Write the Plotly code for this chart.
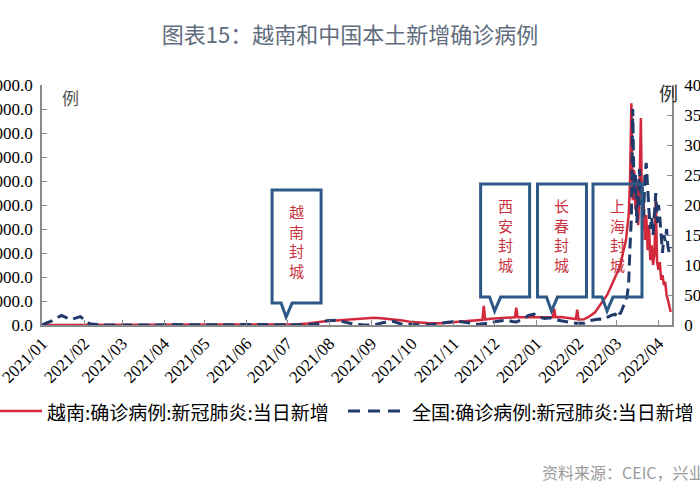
import pandas as pd
import plotly.graph_objects as go

# ---------------- data ----------------
dates_weekly = list(pd.date_range("2021-01-01", "2021-11-19", freq="7D"))
dates_mid = ["2021-11-22", "2021-11-23", "2021-11-24", "2021-11-28", "2021-12-02", "2021-12-06",
             "2021-12-10", "2021-12-14", "2021-12-16", "2021-12-17", "2021-12-18", "2021-12-22",
             "2021-12-26", "2021-12-30", "2022-01-03", "2022-01-07", "2022-01-11", "2022-01-13",
             "2022-01-14", "2022-01-15", "2022-01-19", "2022-01-23", "2022-01-27", "2022-01-30",
             "2022-01-31", "2022-02-01", "2022-02-05", "2022-02-09", "2022-02-13", "2022-02-16",
             "2022-02-19", "2022-02-22", "2022-02-25", "2022-02-28"]
dates_daily = list(pd.date_range("2022-03-01", "2022-04-10", freq="D"))

vn_weekly = [0, 0, 0, 0, 50, 40, 30, 20, 10, 10, 5, 5, 5, 5, 5, 5, 5, 50, 150, 200, 250, 300,
             300, 400, 450, 400, 600, 1500, 3000, 6000, 8500, 9500, 10500, 12000, 14000, 15000,
             13500, 12000, 9500, 6000, 4000, 3500, 3800, 5500, 7500, 9000, 10500]
vn_mid = [11000, 40000, 11500, 13000, 14000, 14500, 15500, 16000, 16000, 36000, 16000, 16000,
          16000, 16500, 15500, 16000, 16000, 16000, 34000, 16000, 16500, 15000, 14000, 12500,
          32000, 11000, 12000, 18000, 26000, 38000, 50000, 62000, 80000, 100000]
vn_daily = [104000, 110000, 118000, 125000, 140000, 150000, 165000, 177000, 200000, 229000,
            300000, 462000, 260000, 323000, 240000, 300000, 208000, 281000, 431000, 198000,
            260000, 177000, 229000, 156000, 208000, 135000, 166000, 125000, 146000, 266000,
            131000, 115000, 131000, 94000, 104000, 83000, 90000, 62000, 52000, 35000, 27000]

cn_weekly = [5, 70, 160, 90, 140, 20, 2, 0, 0, 0, 0, 0, 0, 5, 10, 2, 0, 0, 0, 2, 3, 10,
             15, 10, 5, 5, 3, 3, 5, 20, 70, 80, 40, 10, 2, 2, 40, 60, 10, 2, 2, 5, 30, 50,
             60, 30, 10]
cn_mid = [20, 20, 20, 30, 60, 70, 80, 60, 50, 50, 60, 100, 160, 180, 130, 110, 120, 100, 100, 90,
          70, 50, 40, 30, 30, 25, 30, 70, 80, 100, 90, 130, 160, 180]
cn_daily = [150, 120, 180, 200, 250, 300, 350, 420, 500, 700, 1300, 1800, 3600, 2200, 2500,
            1700, 2100, 2600, 2000, 2300, 1800, 2500, 2700, 2200, 1900, 1600, 1800, 1500, 1900,
            2200, 1700, 2000, 1800, 1400, 1200, 1500, 1400, 1600, 1300, 1200, 1300]

dates = [pd.Timestamp(d) for d in dates_weekly + dates_mid + dates_daily]
vn_cases = vn_weekly + vn_mid + vn_daily
cn_cases = cn_weekly + cn_mid + cn_daily

series_names = ["越南:确诊病例:新冠肺炎:当日新增", "全国:确诊病例:新冠肺炎:当日新增"]

# callouts: label, pointer date, pointer height (fraction of plot)
callout_labels = ["越南封城", "西安封城", "长春封城", "上海封城"]
callout_dates = ["2021-06-30", "2021-12-01", "2022-01-12", "2022-02-22"]
callout_tip_y = [0.033, 0.058, 0.058, 0.058]

RED = "#d3293c"
NAVY = "#1f3a6b"
BOX = "#2d5986"
SERIF = "Liberation Serif"
CJK = "Noto Sans CJK SC"

fig = go.Figure()
fig.add_trace(go.Scatter(x=dates, y=vn_cases, name=series_names[0], mode="lines",
                         line=dict(color=RED, width=2.5), yaxis="y", showlegend=False))
fig.add_trace(go.Scatter(x=dates, y=cn_cases, name=series_names[1], mode="lines",
                         line=dict(color=NAVY, width=3, dash="11px,6px"), yaxis="y2",
                         showlegend=False))

shapes = []
annotations = []
bubble = "M0,0 L-5,14 L-14,14 L-14,127 L35,127 L35,14 L6,14 Z"
for lab, d, ty in zip(callout_labels, callout_dates, callout_tip_y):
    shapes.append(dict(type="path", xref="x", yref="paper", xsizemode="pixel", ysizemode="pixel",
                       xanchor=d, yanchor=ty, path=bubble,
                       line=dict(color=BOX, width=3), fillcolor="rgba(0,0,0,0)", layer="above"))
    annotations.append(dict(text="<br>".join(list(lab)), x=d, y=ty, xref="x", yref="paper",
                            xshift=10.5, yshift=76, showarrow=False, xanchor="center", yanchor="middle",
                            font=dict(family=CJK, size=15, color="#c8333f")))

# manual legend (below plot)
def px2paper(px):
    return (px - 42) / 630

def py2paper(py):
    return (325 - py) / 240

legend_y = py2paper(411)
shapes.append(dict(type="line", xref="paper", yref="paper", x0=px2paper(0), x1=px2paper(42),
                   y0=legend_y, y1=legend_y, line=dict(color=RED, width=2.5)))
shapes.append(dict(type="line", xref="paper", yref="paper", x0=px2paper(348), x1=px2paper(406),
                   y0=legend_y, y1=legend_y, line=dict(color=NAVY, width=3, dash="12px,8px")))
annotations.append(dict(text=series_names[0], x=px2paper(45), y=legend_y, xref="paper", yref="paper",
                        xanchor="left", yanchor="middle", showarrow=False,
                        font=dict(family=CJK, size=19, color="black")))
annotations.append(dict(text=series_names[1], x=px2paper(410), y=legend_y, xref="paper", yref="paper",
                        xanchor="left", yanchor="middle", showarrow=False,
                        font=dict(family=CJK, size=19, color="black")))

annotations += [
    dict(text="例", x=px2paper(70), y=py2paper(97), xref="paper", yref="paper", showarrow=False,
         xanchor="center", yanchor="middle", font=dict(family=CJK, size=17, color="#555555")),
    dict(text="例", x=px2paper(668), y=py2paper(92), xref="paper", yref="paper", showarrow=False,
         xanchor="center", yanchor="middle", font=dict(family=CJK, size=19, color="#333333")),
    dict(text="资料来源：CEIC，兴业证券经济与金融研究院整理", x=px2paper(540), y=py2paper(472),
         xref="paper", yref="paper", xanchor="left", yanchor="middle", showarrow=False,
         font=dict(family=CJK, size=16, color="#9a9a9a")),
]

axis_common = dict(showline=True, linecolor="#8a8a8a", linewidth=1.5, ticks="inside", ticklen=5,
                   tickcolor="#8a8a8a", showgrid=False, zeroline=False, automargin=False,
                   ticklabeloverflow="allow")

fig.update_layout(
    width=700, height=500, template="none", showlegend=False,
    margin=dict(l=42, r=28, t=85, b=175),
    paper_bgcolor="white", plot_bgcolor="white",
    title=dict(text="图表15：越南和中国本土新增确诊病例", x=0.5, xanchor="center", y=0.93, yanchor="middle",
               yref="container", font=dict(family=CJK, size=22, color="#5f6d7e")),
    xaxis=dict(type="date", range=["2020-12-31 18:00", "2022-04-11"], dtick="M1", tick0="2021-01-01",
               tickformat="%Y/%m", tickangle=-45,
               tickfont=dict(family=SERIF, size=17, color="black"), **axis_common),
    yaxis=dict(range=[0, 500000], dtick=50000, tickformat=".1f", ticklabelstandoff=4,
               tickfont=dict(family=SERIF, size=17, color="black"), **axis_common),
    yaxis2=dict(range=[0, 4000], dtick=500, overlaying="y", side="right", ticklabelstandoff=7,
                tickfont=dict(family=SERIF, size=17, color="black"), **axis_common),
    shapes=shapes, annotations=annotations,
)

fig.write_html("out.html", config={"displayModeBar": False},
               post_script="document.body.style.margin='0px';")
